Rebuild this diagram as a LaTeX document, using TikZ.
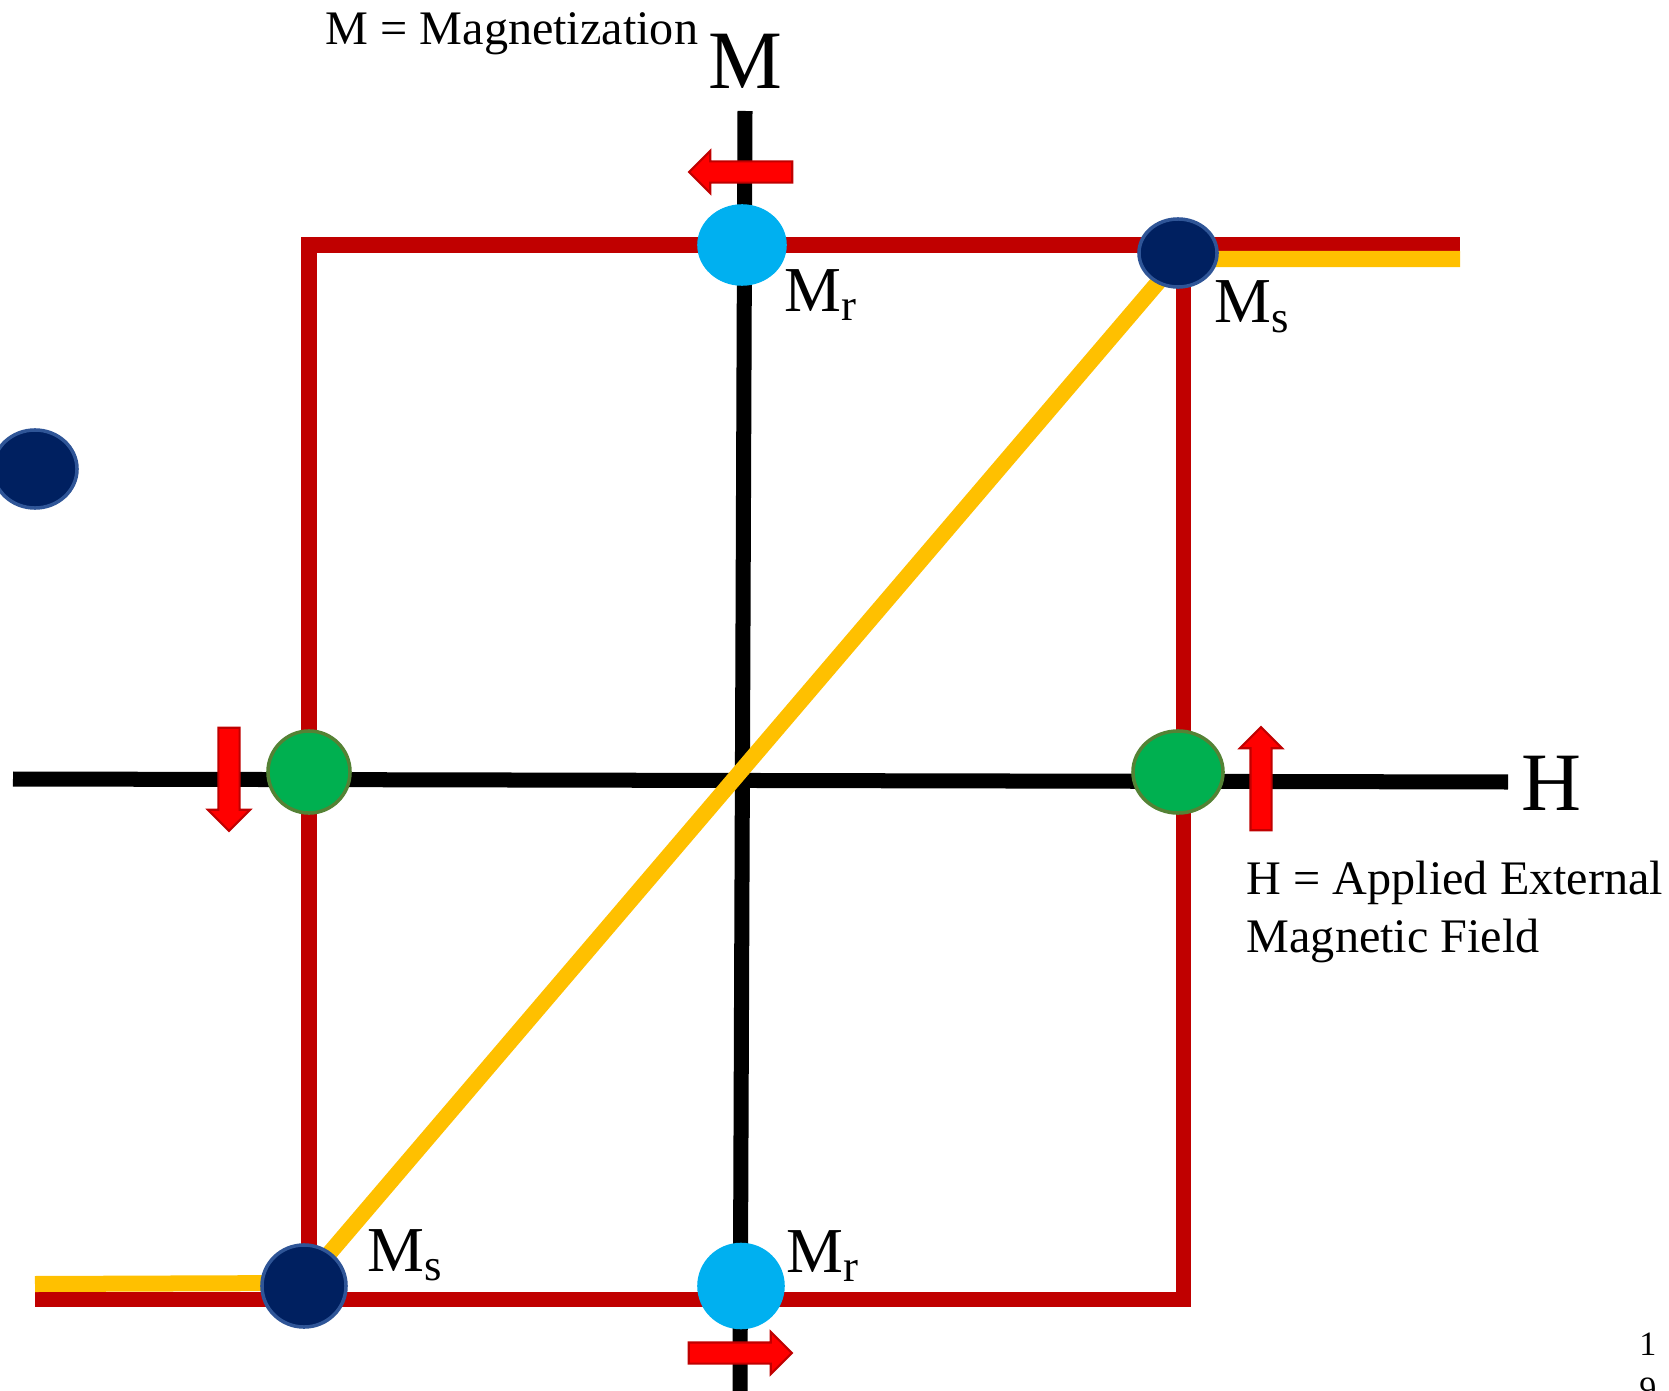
\documentclass[tikz,border=0pt]{standalone}
\usepackage{fontspec}
\setmainfont{Liberation Serif}
\usepackage{tikz}
\usetikzlibrary{positioning,shapes.geometric,shapes.arrows}
\definecolor{loopred}{RGB}{192,0,0}
\definecolor{curveyellow}{RGB}{255,192,0}
\definecolor{satnavy}{RGB}{0,32,96}
\definecolor{satedge}{RGB}{47,85,151}
\definecolor{remblue}{RGB}{0,176,240}
\definecolor{coergreen}{RGB}{0,176,80}
\definecolor{coeredge}{RGB}{84,130,53}
\definecolor{fieldred}{RGB}{255,0,0}
\definecolor{fieldedge}{RGB}{192,0,0}

\begin{document}
\begin{tikzpicture}[x=0.01cm, y=-0.01cm,
		axis/.style={line width=0.15cm, black},
		loopline/.style={line width=0.15cm, loopred},
		virgin/.style={line width=0.16cm, curveyellow},
		dot/.style={ellipse, inner sep=0pt, line width=1pt},
		satdot/.style={dot, fill=satnavy, draw=satedge},
		remdot/.style={dot, fill=remblue, draw=remblue},
		coerdot/.style={dot, fill=coergreen, draw=coeredge},
		fieldarrow/.style={single arrow, fill=fieldred, draw=fieldedge, line width=0.6pt,
								inner xsep=0pt, inner ysep=0.095cm, minimum height=1.03cm,
								single arrow head extend=0.105cm},
		bigaxis/.style={font=\fontsize{23.6}{28}\selectfont, inner sep=0pt},
		ptlabel/.style={font=\fontsize{18.2}{22}\selectfont, inner sep=0pt},
		note/.style={font=\fontsize{13.7}{16.5}\selectfont, inner sep=0pt, align=left},
	]
		\useasboundingbox (0,0) rectangle (1669,1391);
		\clip (0,0) rectangle (1669,1391);

		% axes
		\coordinate (Mtop) at (745,111);
		\coordinate (Mbot) at (740,1391);
		\coordinate (Hleft) at (13,779);
		\coordinate (Hright) at (1508,782);
		\draw[axis] (Mtop) -- (Mbot);
		\draw[axis] (Hleft) -- (Hright);

		% hysteresis loop
		\coordinate (topright) at (1460,245);
		\coordinate (topleft) at (309,245);
		\coordinate (botleft) at (35,1299);
		\coordinate (botright) at (1183,1299);
		\draw[loopline] (topright) -- (topleft) -- (topleft |- botright);
		\draw[loopline] (botleft) -- (botright) -- (botright |- topright);

		% initial magnetization curve
		\coordinate (ystart) at (35,1284);
		\coordinate (ylow) at (304,1283);
		\coordinate (yhigh) at (1178,259);
		\coordinate (yend) at (1460,259);
		\draw[virgin] (ystart) -- (ylow) -- (yhigh) -- (yend);

		% points on the loop
		\node[satdot, minimum width=0.78cm, minimum height=0.68cm] (MsHigh) at (1178,253) {};
		\node[satdot, minimum width=0.84cm, minimum height=0.82cm] (MsLow) at (304,1286) {};
		\node[satdot, minimum width=0.84cm, minimum height=0.78cm] (stray) at (35,469) {};
		\node[remdot, minimum width=0.86cm, minimum height=0.78cm] (MrHigh) at (742,245) {};
		\node[remdot, minimum width=0.84cm, minimum height=0.83cm] (MrLow) at (741,1286) {};
		\node[coerdot, minimum width=0.82cm, minimum height=0.82cm] (HcLeft) at (309,772) {};
		\node[coerdot, minimum width=0.90cm, minimum height=0.82cm] (HcRight) at (1178,772) {};

		% field arrows
		\node[fieldarrow, rotate=180] (pulsetop) at (746,172) {};
		\node[fieldarrow] (pulsebot) at (735,1353) {};
		\node[fieldarrow, rotate=-90] (pulseleft) at (229,774) {};
		\node[fieldarrow, rotate=90] (pulseright) at (1261,784) {};

		% labels
		\node[ptlabel, anchor=base west] (lblMrHigh) at (784,311) {M\textsubscript{r}};
		\node[ptlabel, anchor=base west] (lblMsHigh) at (1214,323) {M\textsubscript{s}};
		\node[ptlabel, anchor=base west] (lblMsLow) at (367,1271) {M\textsubscript{s}};
		\node[ptlabel, anchor=base west] (lblMrLow) at (786,1272) {M\textsubscript{r}};
		\node[note, anchor=base west] (Mdef) at (325,45) {M = Magnetization};
		\node[bigaxis, anchor=base] (Mname) at (745,89) {M};
		\node[bigaxis, anchor=base west] (Hname) at (1521,810) {H};
		\node[note, anchor=north west] (Hdef) at (1246,860) {H = Applied External\\Magnetic Field};
		\node[font=\fontsize{9.7}{12.8}\selectfont, align=center, anchor=north, inner sep=0pt]
			(pageno) at (1648,1332) {1\\9};
	\end{tikzpicture}
\end{document}
